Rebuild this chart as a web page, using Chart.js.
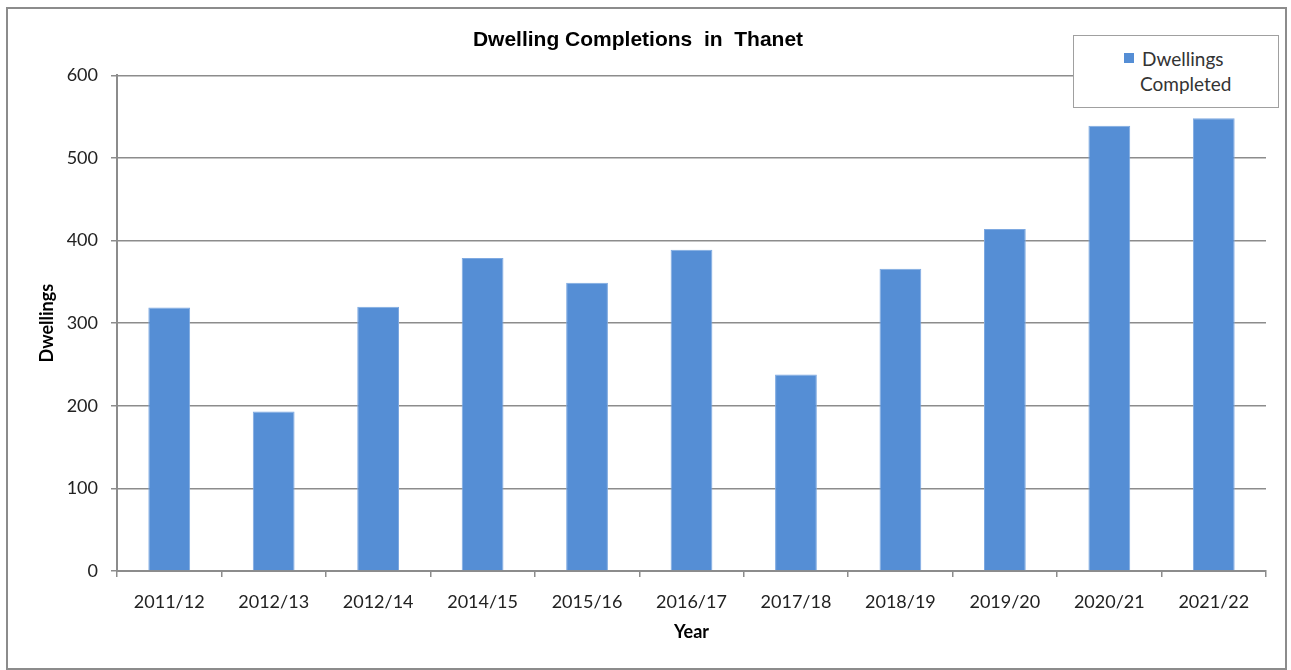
<!DOCTYPE html>
<html>
<head>
<meta charset="utf-8">
<script src="https://cdn.jsdelivr.net/npm/chart.js@4.4.0/dist/chart.umd.min.js"></script>
<style>
  html, body { margin: 0; padding: 0; background: #fff; }
  #wrap { position: relative; width: 1291px; height: 670px; }
  #frame { position: absolute; left: 6px; top: 7px; width: 1277px; height: 659px; border: 2px solid #8c8c8c; }
  canvas { position: absolute; left: 0; top: 0; }
  #legend {
    position: absolute; left: 1073px; top: 35px; width: 204px; height: 71px;
    border: 1.5px solid #a0a0a0; background: #fff;
    font-family: Lato, "Open Sans", sans-serif; font-size: 19px; color: #333;
  }
  #legend .swatch { position: absolute; left: 50px; top: 17px; width: 10px; height: 10px; background: #558ed5; }
  #legend .l1 { position: absolute; left: 68px; top: 11px; }
  #legend .l2 { position: absolute; left: 66px; top: 36px; }
</style>
</head>
<body>
<div id="wrap">
  <div id="frame"></div>
  <canvas id="chart" width="1291" height="670"></canvas>
  <div id="legend">
    <div class="swatch"></div>
    <span class="l1">Dwellings</span>
    <span class="l2">Completed</span>
  </div>
</div>
<script>
// Completions per monitoring year
const years = ["2011/12", "2012/13", "2012/14", "2014/15", "2015/16", "2016/17",
               "2017/18", "2018/19", "2019/20", "2020/21", "2021/22"];
const completed = [319, 193, 320, 379, 349, 389, 238, 366, 414, 539, 548];
const yTicks = [0, 100, 200, 300, 400, 500, 600];

const gridGrey = "#8c8c8c";

new Chart(document.getElementById("chart"), {
    type: "bar",
    data: {
        labels: years,
        datasets: [{
            label: "Dwellings Completed",
            data: completed,
            backgroundColor: "#558ed5",
            borderColor: "#7ea9e1",
            borderWidth: { left: 1, right: 1, top: 1, bottom: 0 },
            categoryPercentage: 1,
            barPercentage: 0.4,
        }]
    },
    options: {
        responsive: false,
        animation: false,
        layout: { padding: { left: 10, right: 25, top: 0, bottom: 19 } },
        plugins: {
            legend: { display: false },
            tooltip: { enabled: false },
            title: {
                display: true,
                text: "Dwelling Completions  in  Thanet",
                color: "#000",
                font: { family: "Liberation Sans", size: 21, weight: "bold", lineHeight: 1.2 },
                padding: { top: 28, bottom: 22.2 },
            },
        },
        scales: {
            x: {
                offset: true,
                grid: {
                    offset: true,
                    drawOnChartArea: false,
                    drawTicks: true,
                    tickLength: 6,
                    color: gridGrey,
                    lineWidth: 1.5,
                },
                border: { color: gridGrey, width: 2 },
                ticks: {
                    color: "#222",
                    padding: 14,
                    font: { family: "Lato", size: 18 },
                    maxRotation: 0,
                },
                title: {
                    display: true,
                    text: "Year",
                    color: "#000",
                    font: { family: "Lato", size: 18, weight: "bold", lineHeight: 1.2 },
                    padding: { top: 0, bottom: 8 },
                },
                afterFit: (scale) => { scale.height = 80; },
            },
            y: {
                min: 0,
                max: 600,
                afterBuildTicks: (scale) => { scale.ticks = yTicks.map(v => ({ value: v })); },
                grid: {
                    color: gridGrey,
                    lineWidth: 1.5,
                    tickLength: 6,
                },
                border: { color: gridGrey, width: 2 },
                ticks: {
                    color: "#222",
                    padding: 13,
                    font: { family: "Lato", size: 18 },
                },
                title: {
                    display: true,
                    text: "Dwellings",
                    color: "#000",
                    font: { family: "Lato", size: 18, weight: "bold", lineHeight: 1.2 },
                    padding: { top: 26, bottom: 0 },
                },
                afterFit: (scale) => { scale.width = 107; },
            },
        },
    },
});
</script>
</body>
</html>
